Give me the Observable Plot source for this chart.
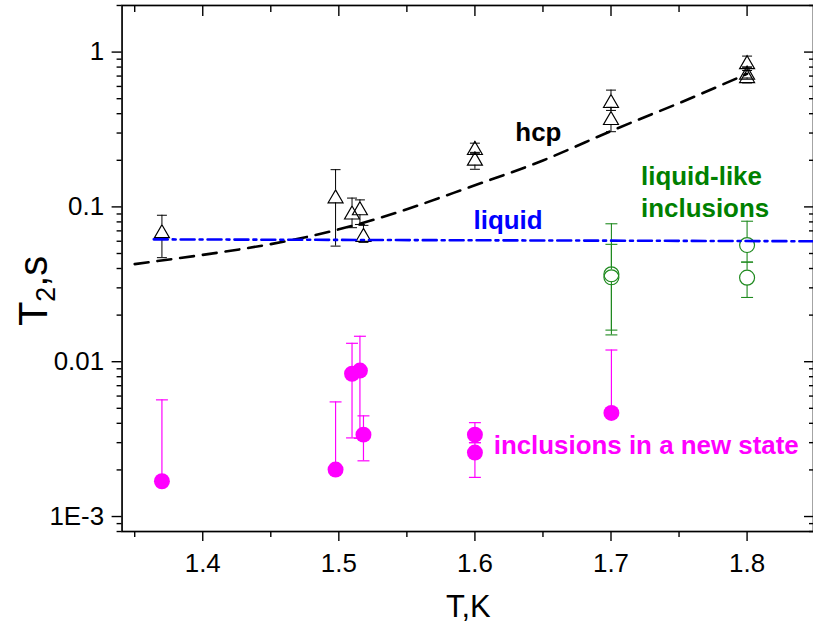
<!DOCTYPE html>
<html><head><meta charset="utf-8">
<script src="https://cdn.jsdelivr.net/npm/d3@7"></script>
<script src="https://cdn.jsdelivr.net/npm/@observablehq/plot@0.6"></script>
<style>
html,body{margin:0;padding:0;background:#fff;overflow:hidden}
svg{display:block}
</style>
</head><body><div id="chart"></div>
<script>
// ---- hcp: open triangles (T, T2, error low, error high)
const hcpT   = [1.370, 1.4976, 1.5097, 1.5155, 1.5181, 1.600, 1.600, 1.700, 1.700, 1.800, 1.800, 1.800];
const hcpT2  = [0.0697, 0.117, 0.092, 0.098, 0.066, 0.240, 0.205, 0.483, 0.375, 0.860, 0.735, 0.700];
const hcpLo  = [0.047, 0.0558, 0.0734, 0.077, 0.059, 0.225, 0.175, 0.420, 0.306, 0.800, 0.680, 0.632];
const hcpHi  = [0.0883, 0.174, 0.114, 0.111, 0.076, 0.258, 0.222, 0.568, 0.440, 0.942, 0.800, 0.760];

// ---- liquid-like inclusions: open green circles
const llT   = [1.7003, 1.7003, 1.8, 1.8];
const llT2  = [0.0367, 0.0351, 0.0567, 0.0349];
const llLo  = [0.0160, 0.0149, 0.044, 0.026];
const llHi  = [0.0778, 0.0573, 0.0808, 0.044];

// ---- inclusions in a new state: filled magenta circles
const nsT   = [1.370, 1.4976, 1.5097, 1.5155, 1.5181, 1.600, 1.600, 1.7003];
const nsT2  = [0.00169, 0.00201, 0.00836, 0.00877, 0.00338, 0.00338, 0.00259, 0.00467];
const nsLo  = [0.00169, 0.00201, 0.00322, 0.00320, 0.00229, 0.00300, 0.00179, 0.00467];
const nsHi  = [0.00567, 0.00550, 0.01315, 0.01460, 0.00447, 0.00404, 0.00300, 0.01190];

// ---- hcp fit (dashed) and liquid level (dash-dot)
const fitT   = [1.35, 1.40, 1.45, 1.50, 1.55, 1.60, 1.65, 1.70, 1.75, 1.80];
const fitT2  = [0.0427, 0.0490, 0.0575, 0.0716, 0.0966, 0.138, 0.1995, 0.309, 0.468, 0.724];
const liqT   = [1.364, 1.8488];
const liqT2  = [0.0617, 0.0600];

// ---- annotations
const labText  = ["hcp", "liquid", "liquid-like", "inclusions", "inclusions in a new state"];
const labT     = [1.6297, 1.599, 1.7221, 1.7221, 1.6138];
const labT2    = [0.301, 0.0809, 0.157, 0.0967, 0.00285];
const labColor = ["#000000", "#0000ff", "#008000", "#008000", "#ff00ff"];

// ---- ticks
const xMajor = [1.4, 1.5, 1.6, 1.7, 1.8];
const xMinor = [1.35, 1.45, 1.55, 1.65, 1.75];
const yMajor = [0.001, 0.01, 0.1, 1];
const yTickLabels = ["1E-3", "0.01", "0.1", "1"];
const yMinor = [0.0008, 0.0009,
  0.002, 0.003, 0.004, 0.005, 0.006, 0.007, 0.008, 0.009,
  0.02, 0.03, 0.04, 0.05, 0.06, 0.07, 0.08, 0.09,
  0.2, 0.3, 0.4, 0.5, 0.6, 0.7, 0.8, 0.9, 2];

const hcp = hcpT.map((t, i) => ({T: t, v: hcpT2[i], lo: hcpLo[i], hi: hcpHi[i]}));
const ll  = llT.map((t, i) => ({T: t, v: llT2[i], lo: llLo[i], hi: llHi[i]}));
const ns  = nsT.map((t, i) => ({T: t, v: nsT2[i], lo: nsLo[i], hi: nsHi[i]}));
const fit = fitT.map((t, i) => ({T: t, v: fitT2[i]}));
const liq = liqT.map((t, i) => ({T: t, v: liqT2[i]}));
const labs = labText.map((s, i) => ({s, T: labT[i], v: labT2[i], c: labColor[i]}));

const cap5 = {draw(c) { c.moveTo(-5, 0); c.lineTo(5, 0); }};
const cap6 = {draw(c) { c.moveTo(-6, 0); c.lineTo(6, 0); }};
const tri  = {draw(c) { c.moveTo(0, -6.5); c.lineTo(7.5, 6.5); c.lineTo(-7.5, 6.5); c.closePath(); }};

const FONT = "'Liberation Sans', Arial, sans-serif";
const GREEN = "#1f8a1f";
const MAG = "#ff00ff";

const chart = Plot.plot({
  width: 816, height: 626,
  marginLeft: 122, marginRight: 0, marginTop: 5, marginBottom: 93,
  style: {fontFamily: FONT, background: "#fff", color: "#000"},
  x: {domain: [1.3407, 1.8488]},
  y: {type: "log", domain: [0.0008, 2]},
  marks: [
    // axes
    Plot.axisX({ticks: xMajor, tickSize: 10, tickPadding: 12, tickFormat: d => d.toFixed(1), fontSize: 26, label: null, strokeWidth: 1.4}),
    Plot.axisX({ticks: xMinor, tickSize: 6, fill: "none", label: null, strokeWidth: 1.4}),
    Plot.axisX({anchor: "top", ticks: xMajor, tickSize: -10, fill: "none", label: null, strokeWidth: 1.4}),
    Plot.axisX({anchor: "top", ticks: xMinor, tickSize: -6, fill: "none", label: null, strokeWidth: 1.4}),
    Plot.axisY({ticks: yMajor, tickSize: 10, tickPadding: 8, tickFormat: d => yTickLabels[yMajor.indexOf(d)], fontSize: 26, label: null, strokeWidth: 1.4}),
    Plot.axisY({ticks: yMinor, tickSize: 5, fill: "none", label: null, strokeWidth: 1.4}),
    Plot.axisY({anchor: "right", ticks: yMajor, tickSize: -10, fill: "none", label: null, strokeWidth: 1.4}),
    Plot.axisY({anchor: "right", ticks: yMinor, tickSize: -5, fill: "none", label: null, strokeWidth: 1.4}),
    Plot.frame({stroke: "#000", strokeWidth: 1.7}),

    // hcp error bars + symbols
    Plot.ruleX(hcp, {x: "T", y1: "hi", y2: "v", insetBottom: 6.5, stroke: "#000", strokeWidth: 1}),
    Plot.ruleX(hcp, {x: "T", y1: "v", y2: "lo", insetTop: 6.5, stroke: "#000", strokeWidth: 1}),
    Plot.dot(hcp, {x: "T", y: "hi", symbol: cap5, stroke: "#000", fill: "none", strokeWidth: 1}),
    Plot.dot(hcp, {x: "T", y: "lo", symbol: cap5, stroke: "#000", fill: "none", strokeWidth: 1}),
    Plot.dot(hcp, {x: "T", y: "v", symbol: tri, stroke: "#000", fill: "none", strokeWidth: 1.2}),

    // liquid-like inclusions
    Plot.ruleX(ll, {x: "T", y1: "hi", y2: "v", insetBottom: 7.5, stroke: GREEN, strokeWidth: 1.1}),
    Plot.ruleX(ll, {x: "T", y1: "v", y2: "lo", insetTop: 7.5, stroke: GREEN, strokeWidth: 1.1}),
    Plot.dot(ll, {x: "T", y: "hi", symbol: cap6, stroke: GREEN, fill: "none", strokeWidth: 1.1}),
    Plot.dot(ll, {x: "T", y: "lo", symbol: cap6, stroke: GREEN, fill: "none", strokeWidth: 1.1}),
    Plot.dot(ll, {x: "T", y: "v", r: 7.5, stroke: GREEN, fill: "none", strokeWidth: 1.2}),

    // inclusions in a new state
    Plot.ruleX(ns, {x: "T", y1: "hi", y2: "lo", stroke: MAG, strokeWidth: 1.2}),
    Plot.dot(ns, {x: "T", y: "hi", symbol: cap6, stroke: MAG, fill: "none", strokeWidth: 1.2}),
    Plot.dot(ns, {x: "T", y: "lo", symbol: cap6, stroke: MAG, fill: "none", strokeWidth: 1.2}),
    Plot.dot(ns, {x: "T", y: "v", r: 8, fill: MAG, stroke: "none"}),

    // lines
    Plot.line(fit, {x: "T", y: "v", stroke: "#000", strokeWidth: 2.6, strokeDasharray: "14,9", curve: "natural"}),
    Plot.line(liq, {x: "T", y: "v", stroke: "#0000ff", strokeWidth: 2.6, strokeDasharray: "14,5,3,5"}),

    // annotations
    Plot.text(labs, {x: "T", y: "v", text: "s", fill: "c", fontSize: 26, fontWeight: "bold", textAnchor: "start", lineAnchor: "middle"})
  ]
});

const svg = d3.select(chart);
// x axis title
svg.append("text")
  .attr("x", 470).attr("y", 619)
  .attr("text-anchor", "middle")
  .attr("font-family", FONT).attr("font-size", 31).attr("fill", "#000")
  .text("T,K");
// y axis title with subscript
const yt = svg.append("text")
  .attr("transform", "translate(47,292) rotate(-90)")
  .attr("text-anchor", "middle")
  .attr("font-family", FONT).attr("font-size", 40).attr("fill", "#000");
yt.append("tspan").text("T");
yt.append("tspan").attr("font-size", 27).attr("dy", 8).text("2");
yt.append("tspan").attr("dy", -8).text(",s");

document.getElementById("chart").appendChild(chart);
</script>
</body></html>
